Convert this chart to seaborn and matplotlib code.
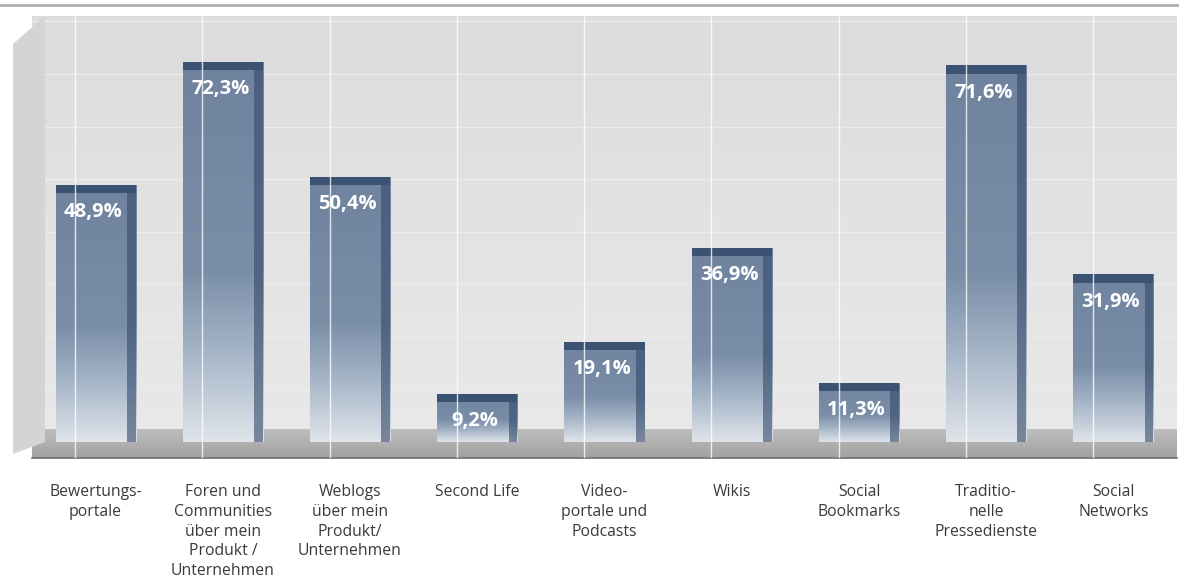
import numpy as np
import pandas as pd
import matplotlib
matplotlib.use("Agg")
import matplotlib.pyplot as plt
import seaborn as sns
from matplotlib.patches import Rectangle, Polygon
from matplotlib.lines import Line2D

categories = [
    "Bewertungs-\nportale",
    "Foren und\nCommunities\nüber mein\nProdukt /\nUnternehmen",
    "Weblogs\nüber mein\nProdukt/\nUnternehmen",
    "Second Life",
    "Video-\nportale und\nPodcasts",
    "Wikis",
    "Social\nBookmarks",
    "Traditio-\nnelle\nPressedienste",
    "Social\nNetworks",
]
values = [48.9, 72.3, 50.4, 9.2, 19.1, 36.9, 11.3, 71.6, 31.9]
value_labels = ["48,9%", "72,3%", "50,4%", "9,2%", "19,1%", "36,9%", "11,3%", "71,6%", "31,9%"]

df = pd.DataFrame({"cat": categories, "val": values})

sns.set_theme(style="white")
plt.rcParams["font.family"] = ["Open Sans", "DejaVu Sans"]

fig = plt.figure(figsize=(11.79, 5.84), dpi=100)
fig.patch.set_facecolor("white")
ax = fig.add_axes([32 / 1179, 126 / 584, 1145 / 1179, 442 / 584])
ax.set_facecolor("#e2e2e2")

sns.barplot(data=df, x="cat", y="val", color="#6f849f", width=0.63, ax=ax,
            saturation=1, zorder=3)

ax.set_xlim(-0.5, len(values) - 0.5)
ax.set_ylim(-3, 81)

# back wall gradient
wall = np.linspace(0, 1, 256).reshape(-1, 1)
ax.imshow(wall, extent=[-0.5, len(values) - 0.5, 0, 81], aspect="auto",
          cmap=matplotlib.colors.LinearSegmentedColormap.from_list("w", ["#e9e9e9", "#dcdcdc"]),
          origin="lower", zorder=0)

# horizontal wall gridlines
for gy in range(10, 81, 10):
    ax.axhline(gy, color="#ececec", lw=1.0, zorder=1)

# floor
floor = np.linspace(0, 1, 64).reshape(-1, 1)
ax.imshow(floor, extent=[-0.5, len(values) - 0.5, -3, 2.5], aspect="auto",
          cmap=matplotlib.colors.LinearSegmentedColormap.from_list("f", ["#a2a2a2", "#bdbdbd"]),
          origin="lower", zorder=1)

bar_cmap = matplotlib.colors.LinearSegmentedColormap.from_list(
    "b", [(0.0, "#dfe4ea"), (0.25, "#a2b2c5"), (0.45, "#7a8ea8"), (1.0, "#6f839f")])
grad = np.linspace(0, 1, 256).reshape(-1, 1)

for p, lab, v in zip(ax.patches, value_labels, values):
    x0, w, h = p.get_x(), p.get_width(), p.get_height()
    p.set_facecolor("none")
    p.set_edgecolor("none")
    im = ax.imshow(grad, extent=[x0, x0 + w, 0, h], aspect="auto", cmap=bar_cmap,
                   origin="lower", zorder=3)
    im.set_clip_path(p)
    # right side shade
    side = Rectangle((x0 + w * 0.89, 0), w * 0.11, h, facecolor="#34496a", alpha=0.6,
                     edgecolor="none", zorder=4)
    ax.add_patch(side)
    # top cap
    cap = Rectangle((x0, h - 1.6), w, 1.6, facecolor="#3b5273", edgecolor="none", zorder=4)
    ax.add_patch(cap)
    ax.text(x0 + w / 2 - w * 0.03, h - 3.3, lab, ha="center", va="top", color="white",
            fontsize=14.5, fontweight="bold", zorder=6)

# thin vertical white lines on the wall / bars
for i in range(len(values)):
    ax.axvline(i - 0.16, color="white", lw=1.0, alpha=0.8, zorder=5)

ax.set_yticks([])
ax.set_xlabel("")
ax.set_ylabel("")
ax.tick_params(axis="x", length=0, pad=19, labelsize=11.3, labelcolor="#3a3a3a")
for t in ax.get_xticklabels():
    t.set_multialignment("center")
    t.set_linespacing(1.3)
for s in ["top", "right", "left"]:
    ax.spines[s].set_visible(False)
ax.spines["bottom"].set_color("#6e6e6e")
ax.spines["bottom"].set_linewidth(1.2)

# left side wall
fig.patches.append(Polygon([[13 / 1179, 540 / 584], [45 / 1179, 568 / 584],
                            [45 / 1179, 142 / 584], [13 / 1179, 130 / 584]],
                           closed=True, transform=fig.transFigure,
                           facecolor="#d4d4d4", edgecolor="none", zorder=0))
# top rule
fig.lines.append(Line2D([0, 1], [579 / 584, 579 / 584], transform=fig.transFigure,
                        color="#b0b0b0", lw=2))

fig.savefig("out.png", dpi=100)
